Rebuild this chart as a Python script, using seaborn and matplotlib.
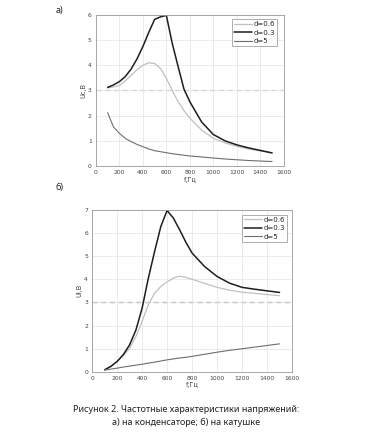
import pandas as pd
import matplotlib
matplotlib.use('Agg')
import matplotlib.pyplot as plt
import seaborn as sns

# Frequencies, Hz
freq = [100, 150, 200, 250, 300, 350, 400, 450, 500, 550, 600, 650, 700, 750, 800,
        900, 1000, 1100, 1200, 1300, 1400, 1500]

# а) voltage on the capacitor, V
uc_d06 = [3.1, 3.14, 3.2, 3.38, 3.6, 3.82, 4.0, 4.1, 4.07, 3.88, 3.48, 3.0, 2.55, 2.2, 1.9,
          1.43, 1.1, 0.92, 0.78, 0.68, 0.6, 0.53]
uc_d03 = [3.12, 3.22, 3.35, 3.55, 3.85, 4.25, 4.74, 5.3, 5.82, 5.92, 5.98, 4.87, 3.95, 3.05, 2.55,
          1.75, 1.25, 1.0, 0.84, 0.72, 0.62, 0.52]
uc_d5 = [2.12, 1.55, 1.3, 1.1, 0.97, 0.86, 0.77, 0.68, 0.61, 0.57, 0.53, 0.49, 0.46, 0.43, 0.4,
         0.36, 0.32, 0.28, 0.25, 0.22, 0.2, 0.18]

# б) voltage on the coil, V
ul_d06 = [0.09, 0.22, 0.45, 0.7, 1.02, 1.53, 2.18, 2.9, 3.4, 3.69, 3.88, 4.05, 4.13, 4.08, 4.0,
          3.82, 3.65, 3.53, 3.44, 3.39, 3.34, 3.29]
ul_d03 = [0.09, 0.24, 0.45, 0.75, 1.17, 1.8, 2.75, 4.05, 5.2, 6.28, 6.97, 6.64, 6.14, 5.6, 5.13,
          4.55, 4.12, 3.83, 3.65, 3.57, 3.5, 3.43]
ul_d5 = [0.08, 0.12, 0.16, 0.21, 0.25, 0.29, 0.33, 0.38, 0.42, 0.47, 0.52, 0.56, 0.6, 0.63, 0.67,
         0.76, 0.85, 0.93, 1.0, 1.07, 1.14, 1.21]

labels = ['d=0.6', 'd=0.3', 'd=5']
colors = {'d=0.6': '#c0c0c0', 'd=0.3': '#1e1e1e', 'd=5': '#6e6e6e'}
widths = {'d=0.6': 0.9, 'd=0.3': 1.1, 'd=5': 0.8}


def long_form(series):
    rows = []
    for lab, vals in zip(labels, series):
        for f, v in zip(freq, vals):
            rows.append({'f': f, 'U': v, 'd': lab})
    return pd.DataFrame(rows)


sns.set_style('white')
plt.rcParams['font.family'] = ['DejaVu Sans']

fig = plt.figure(figsize=(3.73, 4.37), dpi=100)
ax1 = fig.add_axes([0.257, 0.620, 0.504, 0.346])
ax2 = fig.add_axes([0.247, 0.149, 0.536, 0.371])


def draw(ax, df, ymax, ylabel, dash_color, legend_pos):
    for lab in labels:
        sub = df[df['d'] == lab]
        sns.lineplot(data=sub, x='f', y='U', ax=ax, color=colors[lab],
                     lw=widths[lab], label=lab)
    ax.axhline(3, color=dash_color, ls=(0, (4, 3)), lw=0.9, zorder=0)
    ax.set_xlim(0, 1600)
    ax.set_ylim(0, ymax)
    ax.set_xticks(range(0, 1601, 200))
    ax.set_yticks(range(0, ymax + 1))
    ax.grid(True, color='#e3e3e3', lw=0.5)
    ax.tick_params(labelsize=4.3, colors='#444444', length=1.5, width=0.4, pad=1.5)
    for s in ax.spines.values():
        s.set_color('#9a9a9a')
        s.set_linewidth(0.6)
    ax.set_xlabel('f,Гц', fontsize=4.8, color='#444444', labelpad=1)
    ax.set_ylabel(ylabel, fontsize=4.8, color='#444444', labelpad=1)
    leg = ax.legend(loc='upper right', bbox_to_anchor=legend_pos, fontsize=5,
                    frameon=True, fancybox=False, handlelength=2.6,
                    handletextpad=0.2, borderpad=0.3, labelspacing=0.35,
                    borderaxespad=0)
    leg.get_frame().set_edgecolor('#8a8a8a')
    leg.get_frame().set_linewidth(0.6)


draw(ax1, long_form([uc_d06, uc_d03, uc_d5]), 6, 'Uc,В', '#bdbdbd', (0.965, 0.97))
draw(ax2, long_form([ul_d06, ul_d03, ul_d5]), 7, 'Ul,В', '#8e8e8e', (0.975, 0.97))

fig.text(0.15, 0.975, 'а)', fontsize=6.5, family='Noto Sans', va='center')
fig.text(0.15, 0.57, 'б)', fontsize=6.5, family='Noto Sans', va='center')
fig.text(0.50, 0.062, 'Рисунок 2. Частотные характеристики напряжений:',
         fontsize=6.5, family='Noto Sans', ha='center', va='center', color='#222222')
fig.text(0.50, 0.034, 'а) на конденсаторе; б) на катушке',
         fontsize=6.5, family='Noto Sans', ha='center', va='center', color='#222222')

fig.savefig('out.png', dpi=100)
